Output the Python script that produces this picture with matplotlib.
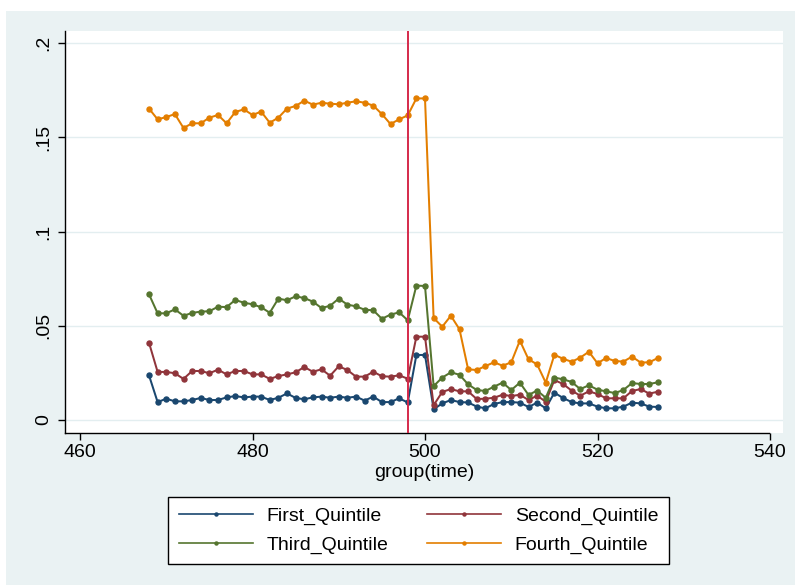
import matplotlib
matplotlib.use("Agg")
import matplotlib.pyplot as plt
from matplotlib.patches import Rectangle
from matplotlib.lines import Line2D

plt.rcParams['font.family'] = ['Liberation Sans', 'DejaVu Sans']

time = list(range(468, 528))

first_q = [0.0237, 0.0095, 0.0113, 0.0099, 0.0099, 0.0106, 0.0117, 0.0106, 0.0106, 0.0120,
           0.0127, 0.0120, 0.0124, 0.0124, 0.0106, 0.0118, 0.0141, 0.0117, 0.0110, 0.0120,
           0.0124, 0.0118, 0.0124, 0.0118, 0.0124, 0.0103, 0.0124, 0.0095, 0.0095, 0.0115,
           0.0093, 0.0345, 0.0345, 0.0057, 0.0088, 0.0106, 0.0095, 0.0093, 0.0071, 0.0062,
           0.0085, 0.0095, 0.0095, 0.0092, 0.0069, 0.0092, 0.0062, 0.0145, 0.0117, 0.0095,
           0.0088, 0.0088, 0.0071, 0.0062, 0.0062, 0.0071, 0.0092, 0.0088, 0.0071, 0.0069]

second_q = [0.0410, 0.0255, 0.0255, 0.0248, 0.0218, 0.0260, 0.0260, 0.0248, 0.0267, 0.0242,
            0.0260, 0.0260, 0.0242, 0.0242, 0.0218, 0.0233, 0.0242, 0.0253, 0.0281, 0.0256,
            0.0269, 0.0235, 0.0285, 0.0265, 0.0230, 0.0230, 0.0256, 0.0232, 0.0230, 0.0237,
            0.0219, 0.0442, 0.0442, 0.0078, 0.0149, 0.0164, 0.0152, 0.0152, 0.0111, 0.0113,
            0.0118, 0.0134, 0.0127, 0.0134, 0.0106, 0.0129, 0.0097, 0.0212, 0.0191, 0.0156,
            0.0129, 0.0152, 0.0138, 0.0115, 0.0115, 0.0115, 0.0154, 0.0164, 0.0140, 0.0150]

third_q = [0.0667, 0.0566, 0.0566, 0.0587, 0.0553, 0.0568, 0.0575, 0.0577, 0.0601, 0.0599,
           0.0637, 0.0622, 0.0614, 0.0598, 0.0569, 0.0644, 0.0635, 0.0656, 0.0647, 0.0628,
           0.0594, 0.0606, 0.0644, 0.0612, 0.0603, 0.0585, 0.0582, 0.0537, 0.0559, 0.0571,
           0.0529, 0.0713, 0.0711, 0.0180, 0.0225, 0.0253, 0.0240, 0.0189, 0.0159, 0.0154,
           0.0177, 0.0198, 0.0159, 0.0198, 0.0133, 0.0156, 0.0118, 0.0225, 0.0216, 0.0202,
           0.0164, 0.0184, 0.0161, 0.0152, 0.0143, 0.0159, 0.0196, 0.0191, 0.0191, 0.0200]

fourth_q = [0.1652, 0.1595, 0.1607, 0.1623, 0.1549, 0.1574, 0.1574, 0.1604, 0.1618, 0.1574,
            0.1634, 0.1648, 0.1618, 0.1636, 0.1577, 0.1604, 0.1652, 0.1666, 0.1694, 0.1673,
            0.1683, 0.1678, 0.1675, 0.1683, 0.1691, 0.1683, 0.1668, 0.1623, 0.1570, 0.1595,
            0.1616, 0.1706, 0.1706, 0.0541, 0.0495, 0.0553, 0.0481, 0.0269, 0.0265, 0.0286,
            0.0306, 0.0288, 0.0306, 0.0421, 0.0322, 0.0295, 0.0198, 0.0346, 0.0325, 0.0309,
            0.0331, 0.0362, 0.0301, 0.0329, 0.0313, 0.0310, 0.0336, 0.0305, 0.0306, 0.0329]

series_names = ["First_Quintile", "Second_Quintile", "Third_Quintile", "Fourth_Quintile"]
series_vals = [first_q, second_q, third_q, fourth_q]
colors = ["#1A476F", "#90353B", "#55752F", "#E37E00"]

xticks = [460, 480, 500, 520, 540]
yticks = [0, 0.05, 0.1, 0.15, 0.2]
ytick_labels = ["0", ".05", ".1", ".15", ".2"]
event_time = 498

W, H = 795, 585
fig = plt.figure(figsize=(W / 100, H / 100), dpi=100)
fig.patch.set_facecolor("white")
bg = "#EAF2F3"
rect = Rectangle((6 / W, 0), 1 - 6 / W, 1 - 11 / H, transform=fig.transFigure,
                 facecolor=bg, edgecolor="none", zorder=-10)
fig.add_artist(rect)

L, R, T, B = 65, 783, 31, 433
ax = fig.add_axes([L / W, 1 - B / H, (R - L) / W, (B - T) / H])
ax.set_facecolor("white")

px_per_x = (770 - 80) / 80.0
x0 = 460 - (80 - L) / px_per_x
x1 = 540 + (R - 770) / px_per_x
ax.set_xlim(x0, x1)
px_per_y = (420 - 43) / 0.2
ax.set_ylim(0 - (B - 420) / px_per_y, 0.2 + (43 - T) / px_per_y)

for yt in yticks:
    ax.axhline(yt, color="#E3EEF0", lw=1.0, zorder=1)

for name, vals, c in zip(series_names, series_vals, colors):
    ax.plot(time, vals, color=c, lw=1.45, marker="o", markersize=3.6, label=name, zorder=3)

ax.axvline(event_time, color="#D52A4B", lw=1.4, zorder=4)

for s in ["top", "right"]:
    ax.spines[s].set_visible(False)
ax.spines["left"].set_linewidth(1.0)
ax.spines["bottom"].set_linewidth(1.0)
ax.spines["bottom"].set_bounds(x0, 539.9)

ax.set_xticks(xticks)
ax.set_xticklabels([str(v) for v in xticks], fontsize=14)
ax.set_yticks(yticks)
ax.set_yticklabels(ytick_labels, fontsize=14, rotation=90, va="center")
ax.tick_params(axis="both", direction="out", length=5, width=1.0, colors="black")
ax.tick_params(axis="y", pad=4)
ax.tick_params(axis="x", pad=3)
ax.set_xlabel("group(time)", fontsize=14, labelpad=2)

leg_handles = [Line2D([0], [0], color=c, lw=1.2, marker="o", markersize=2.2) for c in colors]
order = [0, 2, 1, 3]
leg = fig.legend([leg_handles[i] for i in order], [series_names[i] for i in order],
                 ncol=2, loc="center", bbox_to_anchor=((170 + 667) / 2 / W, 1 - 530.5 / H),
                 fontsize=14, frameon=True, fancybox=False, edgecolor="black",
                 facecolor="white", framealpha=1, handlelength=3.8, handletextpad=0.7,
                 columnspacing=2.0, labelspacing=0.55, numpoints=1, borderpad=0.55)
leg.get_frame().set_linewidth(1.0)

fig.savefig("out.png", dpi=100, facecolor=fig.get_facecolor())
